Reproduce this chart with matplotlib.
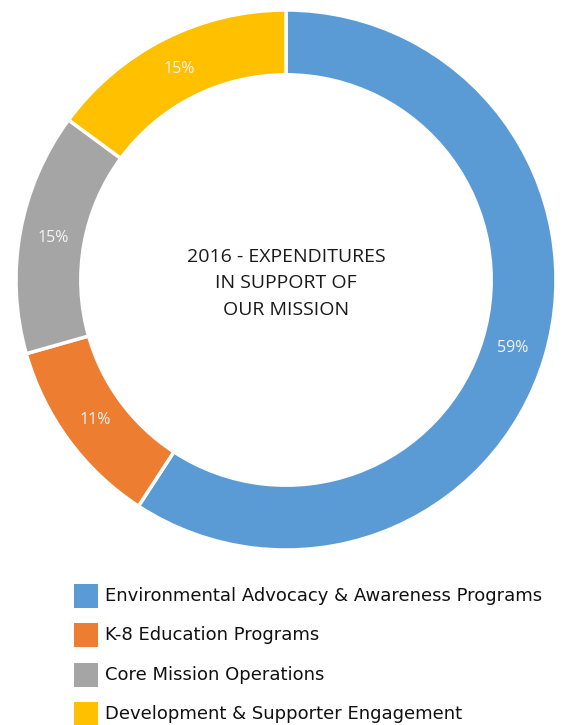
import matplotlib
matplotlib.use("Agg")
import matplotlib.pyplot as plt
from matplotlib.patches import Rectangle

categories = ["Environmental Advocacy & Awareness Programs",
              "K-8 Education Programs",
              "Core Mission Operations",
              "Development & Supporter Engagement"]
values = [59.2, 11.4, 14.5, 14.9]
pct_labels = ["59%", "11%", "15%", "15%"]
colors = ["#5b9bd5", "#ed7d31", "#a5a5a5", "#ffc000"]
center_lines = "2016 - EXPENDITURES\nIN SUPPORT OF\nOUR MISSION"

W, H = 563, 725
fig = plt.figure(figsize=(W / 100, H / 100), dpi=100)
fig.patch.set_facecolor("white")

cx, cy, R = 286, 280, 270
ax = fig.add_axes([(cx - R) / W, (H - cy - R) / H, 2 * R / W, 2 * R / H])

wedges, texts = ax.pie(
    values, colors=colors, startangle=90, counterclock=False, radius=1,
    labels=pct_labels, labeldistance=0.8775,
    wedgeprops=dict(width=0.24, edgecolor="white", linewidth=2.5),
    textprops=dict(color="#f4f4f4", fontsize=11.5, family="Open Sans"))
for t in texts:
    t.set_ha("center")
    t.set_va("center")
ax.set_xlim(-1, 1)
ax.set_ylim(-1, 1)
ax.set_aspect("equal")
ax.axis("off")

ax.text(0, -0.012, center_lines, ha="center", va="center", fontsize=14,
        family="Open Sans", color="#1a1a1a", linespacing=1.62)

ys = [596, 635, 675, 714]
for lab, col, y in zip(categories, colors, ys):
    fig.patches.append(Rectangle(((74) / W, (H - y - 12) / H), 24 / W, 24 / H,
                                 transform=fig.transFigure, facecolor=col,
                                 edgecolor="none"))
    fig.text(105 / W, (H - y) / H, lab, ha="left", va="center",
             fontsize=13, family="DejaVu Sans", color="#111111")

fig.savefig("out.png", dpi=100, facecolor="white")
